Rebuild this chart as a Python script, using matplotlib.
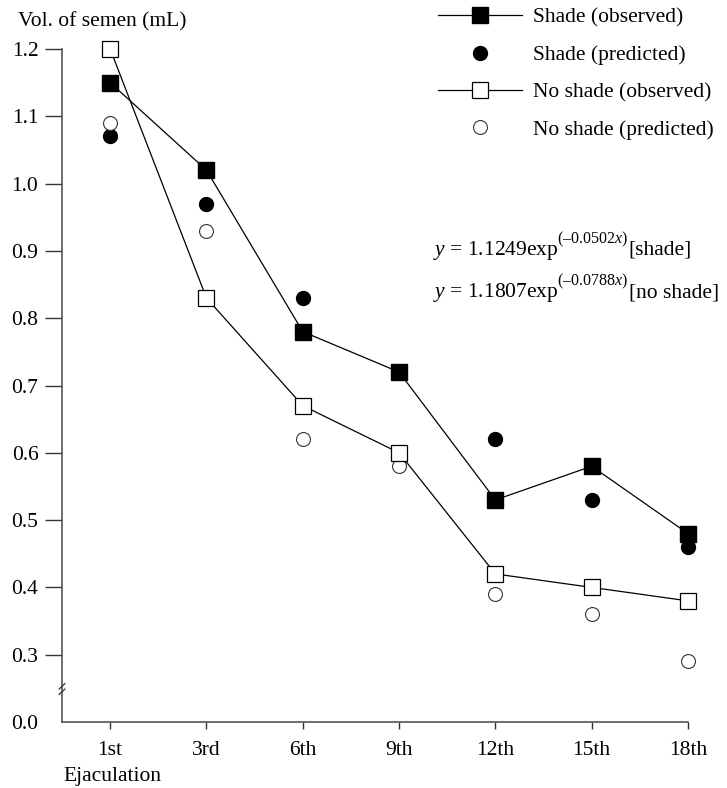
import matplotlib
matplotlib.use("Agg")
import matplotlib.pyplot as plt

plt.rcParams['font.family'] = ['Liberation Serif', 'DejaVu Serif']
plt.rcParams['mathtext.fontset'] = 'custom'
plt.rcParams['mathtext.rm'] = 'Liberation Serif'
plt.rcParams['mathtext.it'] = 'Liberation Serif:italic'

categories = ["1st", "3rd", "6th", "9th", "12th", "15th", "18th"]
shade_observed = [1.15, 1.02, 0.78, 0.72, 0.53, 0.58, 0.48]
shade_predicted = [1.07, 0.97, 0.83, 0.72, 0.62, 0.53, 0.46]
noshade_observed = [1.20, 0.83, 0.67, 0.60, 0.42, 0.40, 0.38]
noshade_predicted = [1.09, 0.93, 0.62, 0.58, 0.39, 0.36, 0.29]

ytick_pos = [0.2, 0.3, 0.4, 0.5, 0.6, 0.7, 0.8, 0.9, 1.0, 1.1, 1.2]
ytick_labels = ["0.0", "0.3", "0.4", "0.5", "0.6", "0.7", "0.8", "0.9", "1.0", "1.1", "1.2"]

equations = [
    ("$y$ = 1.1249exp", "(\u20130.0502$x$)", "[shade]"),
    ("$y$ = 1.1807exp", "(\u20130.0788$x$)", "[no shade]"),
]

W, H = 727, 788
fig = plt.figure(figsize=(W/100, H/100), dpi=100)
ax = fig.add_axes([62/W, 1-722/H, (688-62)/W, (722-49)/H])

x = list(range(len(categories)))
fs = 15.5

ax.plot(x, shade_predicted, linestyle='none', marker='o', ms=10, color='black',
        label='Shade (predicted)', zorder=3, clip_on=False)
ax.plot(x, noshade_predicted, linestyle='none', marker='o', ms=10, mfc='white',
        mec='#333333', mew=0.8, label='No shade (predicted)', zorder=3, clip_on=False)
ax.plot(x, shade_observed, color='black', lw=0.9, marker='s', ms=11,
        label='Shade (observed)', zorder=4, clip_on=False)
ax.plot(x, noshade_observed, color='black', lw=0.9, marker='s', ms=11, mfc='white',
        mec='black', mew=0.9, label='No shade (observed)', zorder=4, clip_on=False)

ax.set_xlim(-0.5, 6)
ax.set_ylim(0.2, 1.2)
ax.set_xticks(x)
ax.set_xticklabels(categories, fontsize=fs)
ax.set_yticks(ytick_pos)
ax.set_yticklabels(ytick_labels, fontsize=fs)

for s in ['top', 'right']:
    ax.spines[s].set_visible(False)
for s in ['left', 'bottom']:
    ax.spines[s].set_color('#555555')
    ax.spines[s].set_linewidth(1.2)

ax.tick_params(axis='y', direction='out', length=12, width=1.0, color='#333333', pad=5)
ax.tick_params(axis='x', direction='out', length=5, width=1.0, color='#333333', pad=9)
ax.yaxis.get_major_ticks()[0].tick1line.set_visible(False)

# axis break marks
for dy in (-0.004, 0.004):
    ax.plot([-0.5 - 0.03, -0.5 + 0.03], [0.245 + dy, 0.253 + dy], color='#333333',
            lw=0.9, clip_on=False, zorder=5)

fig.text(18/W, 1-22/H, "Vol. of semen (mL)", fontsize=fs, ha='left', va='center')
fig.text(63/W, 1-777/H, "Ejaculation", fontsize=fs, ha='left', va='center')

renderer = fig.canvas.get_renderer()
baselines = [255, 297]
for (main, sup, tail), base in zip(equations, baselines):
    t1 = fig.text(433/W, 1-base/H, main, fontsize=fs, ha='left', va='baseline')
    x1 = t1.get_window_extent(renderer).x1
    t2 = fig.text((x1-2)/W, 1-(base-12)/H, sup, fontsize=11.5, ha='left', va='baseline')
    x2 = t2.get_window_extent(renderer).x1
    fig.text((x2+1)/W, 1-base/H, tail, fontsize=fs, ha='left', va='baseline')

h, l = ax.get_legend_handles_labels()
order = [2, 0, 3, 1]
leg = ax.legend([h[i] for i in order], [l[i] for i in order], loc='upper left',
                bbox_to_anchor=(434/W, 1-3.5/H), bbox_transform=fig.transFigure,
                frameon=False, fontsize=fs, handlelength=3.9, handletextpad=0.5,
                labelspacing=0.8, borderaxespad=0, borderpad=0.2)

fig.savefig("out.png", dpi=100)
